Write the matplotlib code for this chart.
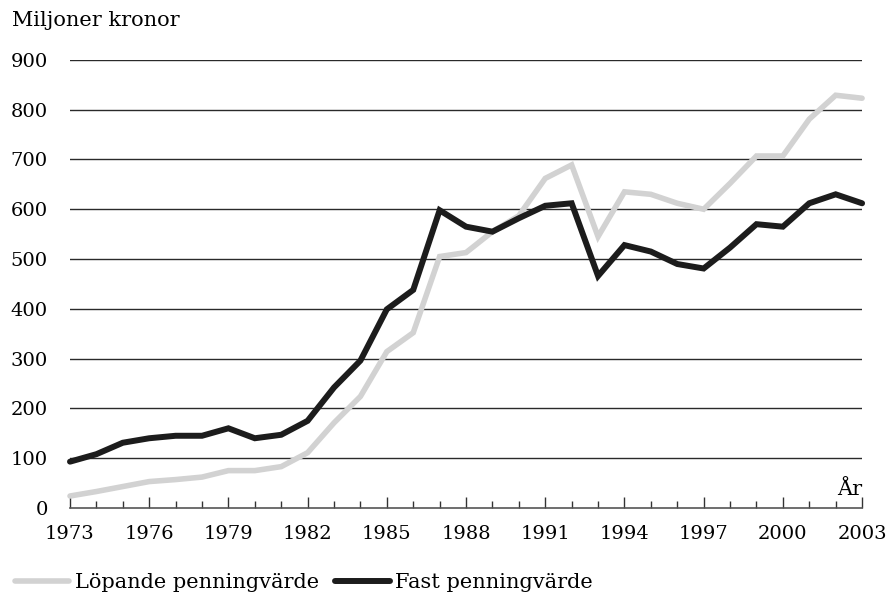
import matplotlib
matplotlib.use("Agg")
import matplotlib.pyplot as plt
from matplotlib.ticker import MultipleLocator

# Data
years = list(range(1973, 2004))
lopande = [24, 33, 43, 53, 57, 62, 75, 75, 83, 111, 171, 224, 314, 352, 505,
           513, 555, 587, 662, 689, 545, 635, 630, 612, 600, 652, 707, 707,
           781, 829, 823]
fast = [93, 108, 131, 140, 145, 145, 160, 140, 147, 175, 242, 296, 399, 438, 598,
        565, 555, 582, 607, 612, 466, 528, 515, 490, 481, 523, 570, 565,
        612, 630, 612]
y_ticks = [0, 100, 200, 300, 400, 500, 600, 700, 800, 900]
x_ticks = list(range(1973, 2004, 3))

plt.rcParams['font.family'] = ['DejaVu Serif']
fs = 14      # tick labels
fs_txt = 15  # titles / legend

fig = plt.figure(figsize=(8.86, 5.99), dpi=100)
ax = fig.add_axes([0.079, 0.152, 0.894, 0.748])

for y in y_ticks[1:]:
    ax.axhline(y, color='#2a2a2a', lw=1.0, zorder=1)

ax.plot(years, lopande, color='#d2d2d2', lw=4.0, solid_capstyle='round',
        solid_joinstyle='miter', label='Löpande penningvärde', zorder=3, clip_on=False)
ax.plot(years, fast, color='#1c1c1c', lw=4.3, solid_capstyle='round',
        solid_joinstyle='miter', label='Fast penningvärde', zorder=4, clip_on=False)

ax.set_xlim(1973, 2003)
ax.set_ylim(0, 900)
ax.set_xticks(x_ticks)
ax.xaxis.set_minor_locator(MultipleLocator(1))
ax.set_yticks(y_ticks)

for s in ['top', 'right', 'left']:
    ax.spines[s].set_visible(False)
ax.spines['bottom'].set_color('#555555')
ax.spines['bottom'].set_linewidth(1.2)

ax.tick_params(axis='x', which='major', direction='in', length=8, width=1,
               color='#333333', pad=12, labelsize=fs)
ax.tick_params(axis='x', which='minor', direction='in', length=5, width=1,
               color='#333333')
ax.tick_params(axis='y', length=0, pad=16, labelsize=fs)

fig.text(0.013, 0.965, 'Miljoner kronor', fontsize=fs_txt, ha='left', va='center')
ax.text(2003, 18, 'År', fontsize=fs_txt, ha='right', va='bottom')

fig.legend(loc='lower left', bbox_to_anchor=(-0.004, -0.02), ncol=2, frameon=False,
           handlelength=2.6, handletextpad=0.25, columnspacing=0.8, fontsize=fs_txt)

fig.savefig('out.png', dpi=100)
